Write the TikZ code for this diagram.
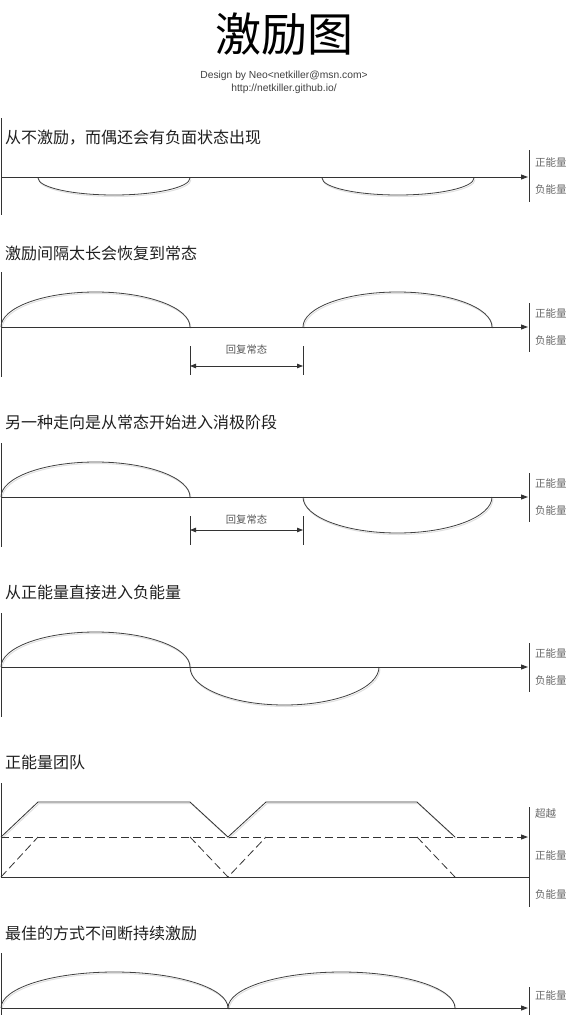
\documentclass[tikz,border=0pt]{standalone}
\usepackage{fontspec}
\setmainfont{Liberation Sans}
\newfontfamily\cjk{Noto Sans CJK SC}
\usetikzlibrary{arrows.meta}
\newcommand\myarc[4]{%
  \pgfmathsetmacro\arcC{(#1+#2)/2}%
  \pgfmathsetmacro\arcR{(#2-#1)/2*0.5523}%
  \pgfmathsetmacro\arcH{(#4)*0.5523}%
  \draw[shadowc,shift={(1,1.5)}] (#1,#3) .. controls (#1,#3-\arcH) and (\arcC-\arcR,#3-#4) .. (\arcC,#3-#4) .. controls (\arcC+\arcR,#3-#4) and (#2,#3-\arcH) .. (#2,#3);
  \draw[curve] (#1,#3) .. controls (#1,#3-\arcH) and (\arcC-\arcR,#3-#4) .. (\arcC,#3-#4) .. controls (\arcC+\arcR,#3-#4) and (#2,#3-\arcH) .. (#2,#3);
}
\begin{document}
\begin{tikzpicture}[x=1pt,y=-1pt,
  ax/.style={draw=black!80, line width=0.9pt},
  axarrow/.style={ax,-{Triangle[length=7pt,width=5pt]}},
  curve/.style={draw=black!75,line width=0.8pt},
  shadowc/.style={draw=black!12,line width=1pt},
  vline/.style={draw=black!80,line width=0.9pt},
  head/.style={anchor=west,font=\cjk\fontsize{16}{16}\selectfont,text=black!88,inner sep=0pt},
  lab/.style={anchor=west,font=\cjk\fontsize{10.5}{10.5}\selectfont,text=black!60,inner sep=0pt},
  dimlab/.style={anchor=center,font=\cjk\fontsize{10.3}{10.3}\selectfont,text=black!65,inner sep=0pt},
  dimarrow/.style={draw=black!80,line width=0.8pt,{Triangle[length=6pt,width=4.5pt]}-{Triangle[length=6pt,width=4.5pt]}},
  dashax/.style={draw=black!80,line width=0.9pt,dash pattern=on 8pt off 4pt},
]
\useasboundingbox (0,0) rectangle (568,1015);

% title
\node[font=\cjk\fontsize{46}{46}\selectfont,inner sep=0pt] (title) at (284,34) {激励图};
\node[font=\fontsize{10.3}{11}\selectfont,text=black!75,inner sep=0pt] (design) at (284,76) {Design by Neo<netkiller@msn.com>};
\node[font=\fontsize{10.3}{11}\selectfont,text=black!75,inner sep=0pt] (url) at (284,89) {http://netkiller.github.io/};

% ---------- section 1 ----------
\node[head] (h1) at (5,138) {从不激励，而偶还会有负面状态出现};
\coordinate (s1l) at (1,177);
\coordinate (s1r) at (528,177);
\draw[vline] (1,118) -- (1,215);
\myarc{38}{190}{178}{-17}
\myarc{322}{474}{178}{-17}
\draw[axarrow] (s1l) -- (s1r);
\draw[vline] (529,150) -- (529,202);
\node[lab] (p1) at (535,162) {正能量};
\node[lab] (n1) at (535,189) {负能量};

% ---------- section 2 ----------
\node[head] (h2) at (5,253) {激励间隔太长会恢复到常态};
\coordinate (s2l) at (1,327);
\coordinate (s2r) at (528,327);
\draw[vline] (1,272) -- (1,377);
\myarc{1}{190}{327}{35}
\myarc{303}{492}{327}{35}
\draw[axarrow] (s2l) -- (s2r);
\draw[vline] (529,303) -- (529,352);
\node[lab] (p2) at (535,313) {正能量};
\node[lab] (n2) at (535,340) {负能量};
\draw[vline,line width=0.8pt] (190,346) -- (190,375);
\draw[vline,line width=0.8pt] (303,346) -- (303,375);
\coordinate (d2a) at (190,366);
\coordinate (d2b) at (303,366);
\draw[dimarrow] (d2a) -- (d2b);
\node[dimlab] (r2) at (246.5,350) {回复常态};

% ---------- section 3 ----------
\node[head] (h3) at (5,422) {另一种走向是从常态开始进入消极阶段};
\coordinate (s3l) at (1,497);
\coordinate (s3r) at (528,497);
\draw[vline] (1,443) -- (1,547);
\myarc{1}{190}{497}{35}
\myarc{303}{492}{497}{-36}
\draw[axarrow] (s3l) -- (s3r);
\draw[vline] (529,473) -- (529,522);
\node[lab] (p3) at (535,483) {正能量};
\node[lab] (n3) at (535,510) {负能量};
\draw[vline,line width=0.8pt] (190,516) -- (190,545);
\draw[vline,line width=0.8pt] (303,516) -- (303,545);
\coordinate (d3a) at (190,530);
\coordinate (d3b) at (303,530);
\draw[dimarrow] (d3a) -- (d3b);
\node[dimlab] (r3) at (246.5,520) {回复常态};

% ---------- section 4 ----------
\node[head] (h4) at (5,592) {从正能量直接进入负能量};
\coordinate (s4l) at (1,667);
\coordinate (s4r) at (528,667);
\draw[vline] (1,613) -- (1,717);
\myarc{1}{190}{667}{35}
\myarc{190}{379}{667}{-38}
\draw[axarrow] (s4l) -- (s4r);
\draw[vline] (529,643) -- (529,692);
\node[lab] (p4) at (535,653) {正能量};
\node[lab] (n4) at (535,680) {负能量};

% ---------- section 5 ----------
\node[head] (h5) at (5,762) {正能量团队};
\draw[vline] (1,783) -- (1,878);
\draw[shadowc,shift={(1,1.5)}] (1,837) -- (38,802) -- (190,802) -- (228,837) -- (266,802) -- (417,802) -- (455,837);
\draw[ax,line width=0.8pt] (1,837) -- (38,802) -- (190,802) -- (228,837) -- (266,802) -- (417,802) -- (455,837);
\coordinate (s5l) at (1,837);
\coordinate (s5r) at (528,837);
\draw[dashax,-{Triangle[length=7pt,width=5pt]}] (s5l) -- (s5r);
\draw[dashax,line width=0.8pt] (1,877) -- (38,837);
\draw[dashax,line width=0.8pt] (190,837) -- (228,877) -- (266,837);
\draw[dashax,line width=0.8pt] (417,837) -- (455,877);
\draw[ax] (1,877) -- (529,877);
\draw[vline] (529,807) -- (529,907);
\node[lab] (c5) at (535,814) {超越};
\node[lab] (p5) at (535,855) {正能量};
\node[lab] (n5) at (535,894) {负能量};

% ---------- section 6 ----------
\node[head] (h6) at (5,933) {最佳的方式不间断持续激励};
\coordinate (s6l) at (1,1008);
\coordinate (s6r) at (528,1008);
\draw[vline] (1,953) -- (1,1015);
\myarc{1}{228}{1008}{36}
\myarc{228}{455}{1008}{36}
\draw[axarrow] (s6l) -- (s6r);
\draw[vline] (529,987) -- (529,1015);
\node[lab] (p6) at (535,995) {正能量};
\end{tikzpicture}
\end{document}
